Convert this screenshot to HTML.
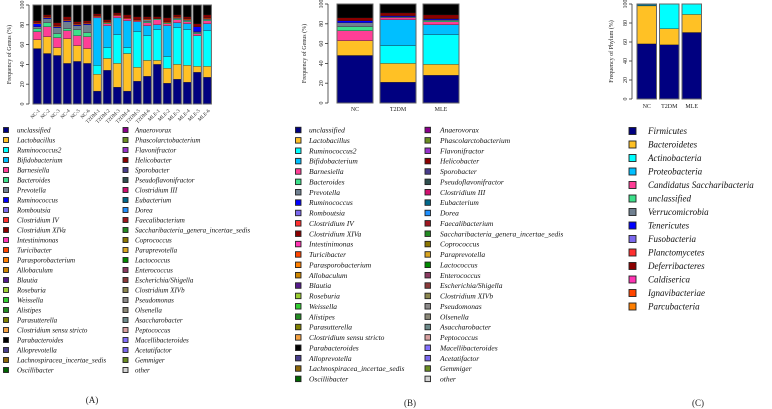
<!DOCTYPE html>
<html><head><meta charset="utf-8">
<style>
html,body{margin:0;padding:0;background:#fff;}
svg{display:block;font-family:"Liberation Serif",serif;}
.lg{font-style:italic;}
</style></head>
<body>
<svg id="fig" width="772" height="409" viewBox="0 0 772 409"></svg>
<script>
// ---------- Panel A data ----------
const samplesA = ["NC-1","NC-2","NC-3","NC-4","NC-5","NC-6","T2DM-1","T2DM-2","T2DM-3","T2DM-4","T2DM-5","T2DM-6","MLE-1","MLE-2","MLE-3","MLE-4","MLE-5","MLE-6"];
const aUnclassified = [56,51,49,41,43,41,13,34,17,13,23,28,40,21,25,22,32,27];
const aLactobacillus = [9,17,8,25,16,15,17,12,24,38,14,16,4,15,15,17,6,11];
const aRuminococcus2 = [0,0,0,0,0,0,9,11,29,6,36,25,31,12,37,36,31,36];
const aBifidobacterium = [0,0,0,0,0,0,48,22,17,27,10,10,5,31,5,6,0,7];
const aBarnesiella = [8,10,10,8,10,12,1,2,2,2,1,3,5,2,3,2,2,3];
const aBacteroides = [3,4,4,2,6,4,0,1,0,0,0,1,1,1,1,1,1,1];
const aPrevotella = [2,4,6,7,4,8,0,0,0,0,0,2,0,0,1,1,1,1];
const aRuminococcus = [3,1,1,1,1,1,0,0,0,0,0,0,0,0,0,0,5,0];
const aTuricibacter = [1,1,1,1,1,1,1,1,1,1,1,1,0,1,1,1,0,1];
const aOther = [2,2,3,3,2,2,2,2,2,3,3,2,2,4,2,2,3,3];
// ---------- Panel B data ----------
const groups = ["NC","T2DM","MLE"];
const bUnclassified = [48,21,28];
const bLactobacillus = [15,19,11];
const bRuminococcus2 = [0,18,30];
const bBifidobacterium = [0,26,10];
const bBarnesiella = [10,2,3];
const bBacteroides = [4,0,1];
const bPrevotella = [4,1,1];
const bRuminococcus = [2,1,1];
const bOther = [3,3,4];
// ---------- Panel C data ----------
const cFirmicutes = [58,57,70];
const cBacteroidetes = [40,17,19];
const cActinobacteria = [0.5,26,11];
const cProteobacteria = [1,0,0];

const legendA1 = [["unclassified","#000080"],["Lactobacillus","#FFC125"],["Ruminococcus2","#00FFFF"],["Bifidobacterium","#00BFFF"],["Barnesiella","#FF3E96"],["Bacteroides","#3CE08A"],["Prevotella","#708090"],["Ruminococcus","#0000FF"],["Romboutsia","#7B68EE"],["Clostridium IV","#FF3030"],["Clostridium XIVa","#8B0000"],["Intestinimonas","#FF34B3"],["Turicibacter","#FF4500"],["Parasporobacterium","#FF7F00"],["Allobaculum","#CD8500"],["Blautia","#551A8B"],["Roseburia","#9ACD32"],["Weissella","#32CD32"],["Alistipes","#228B22"],["Parasutterella","#808000"],["Clostridium sensu stricto","#F4A040"],["Parabacteroides","#000000"],["Alloprevotella","#483D8B"],["Lachnospiracea_incertae_sedis","#8B6508"],["Oscillibacter","#006400"]];
const legendA2 = [["Anaerovorax","#8B008B"],["Phascolarctobacterium","#6B8E23"],["Flavonifractor","#9932CC"],["Helicobacter","#8B0000"],["Sporobacter","#483D8B"],["Pseudoflavonifractor","#2F4F4F"],["Clostridium III","#D10F6F"],["Eubacterium","#00688B"],["Dorea","#1E90FF"],["Faecalibacterium","#A0171F"],["Saccharibacteria_genera_incertae_sedis","#228B22"],["Coprococcus","#8B7500"],["Paraprevotella","#DAA520"],["Lactococcus","#008B00"],["Enterococcus","#8B3A62"],["Escherichia/Shigella","#8B3A3A"],["Clostridium XIVb","#8B864E"],["Pseudomonas","#8B8989"],["Olsenella","#8B8878"],["Asaccharobacter","#6E8B8B"],["Peptococcus","#D8A0A0"],["Macellibacteroides","#8470FF"],["Acetatifactor","#7B68EE"],["Gemmiger","#6B8E23"],["other","#D3D3D3"]];
const legendC = [["Firmicutes","#000080"],["Bacteroidetes","#FFC125"],["Actinobacteria","#00FFFF"],["Proteobacteria","#00BFFF"],["Candidatus Saccharibacteria","#FF3E96"],["unclassified","#3CE08A"],["Verrucomicrobia","#708090"],["Tenericutes","#0000FF"],["Fusobacteria","#7B68EE"],["Planctomycetes","#FF3030"],["Deferribacteres","#8B0000"],["Caldiserica","#FF34B3"],["Ignavibacteriae","#FF4500"],["Parcubacteria","#FF7F00"]];

const NS="http://www.w3.org/2000/svg";
const svg=document.getElementById('fig');
function mk(tag,attrs,parent){const e=document.createElementNS(NS,tag);for(const k in attrs)e.setAttribute(k,attrs[k]);(parent||svg).appendChild(e);return e;}

function panel(p){
  const g=mk('g',{});
  
  
  const yScale=v=>p.y0-(p.y0-p.y100)*v/100;
  // y axis
  const ax=mk('g',{},g);
  
  
  mk('line',{x1:p.axX,x2:p.axX,y1:yScale(0),y2:yScale(100),stroke:'#333','stroke-width':0.8},ax);
  [0,20,40,60,80,100].forEach(t=>{
    const y=yScale(t);
    mk('line',{x1:p.axX-3,x2:p.axX,y1:y,y2:y,stroke:'#333','stroke-width':0.8},ax);
    const tx=mk('text',{x:p.axX-5,y:y,'font-size':p.tickFs,'text-anchor':'middle',transform:`rotate(-90 ${p.axX-5} ${y})`,fill:'#222'},ax);
    tx.textContent=t;
    
    
  });
  const ym=(yScale(0)+yScale(100))/2;
  const tt=mk('text',{x:p.titleX,y:ym,'font-size':p.tickFs,'text-anchor':'middle',transform:`rotate(-90 ${p.titleX} ${ym})`,fill:'#222'},g);
  tt.textContent=p.title;
  
  
  // bars
  p.cats.forEach((c,i)=>{
    const bx=p.barX(i);
    const bg=mk('g',{},g);
    
    
    let cum=0;
    p.series.forEach(s=>{
      const v=s.vals[i]; if(v<=0)return;
      const r=mk('rect',{x:bx,y:yScale(cum+v),width:p.barW,height:yScale(cum)-yScale(cum+v),fill:s.color,stroke:'#111','stroke-width':0.3},bg);
      
      
      cum+=v;
    });
    if(cum<100){
      const r=mk('rect',{x:bx,y:yScale(100),width:p.barW,height:yScale(cum)-yScale(100),fill:p.restColor,stroke:'#111','stroke-width':0.3},bg);
      
      
    }
    mk('rect',{x:bx,y:yScale(100),width:p.barW,height:yScale(0)-yScale(100),fill:'none',stroke:'#666','stroke-width':1},bg);
    const cx=bx+p.barW/2;
    let lb;
    if(p.rotLabels){
      lb=mk('text',{x:cx+3,y:p.labY,'font-size':5,'text-anchor':'end',transform:`rotate(-45 ${cx+3} ${p.labY})`,fill:'#222'},g);
    } else {
      lb=mk('text',{x:cx,y:p.labY,'font-size':p.tickFs,'text-anchor':'middle',fill:'#222'},g);
    }
    lb.textContent=c;
    
    
  });
}

panel({name:'genus-samples',cats:samplesA,y0:104,y100:5,axX:29,titleX:11,tickFs:6,title:'Frequency of Genus (%)',
  barX:i=>33+i*10,barW:8.4,labY:111,rotLabels:true,restColor:'#000',
  series:[{key:'unclassified',vals:aUnclassified,color:'#000080'},{key:'lactobacillus',vals:aLactobacillus,color:'#FFC125'},
  {key:'ruminococcus2',vals:aRuminococcus2,color:'#00FFFF'},{key:'bifidobacterium',vals:aBifidobacterium,color:'#00BFFF'},
  {key:'barnesiella',vals:aBarnesiella,color:'#FF3E96'},{key:'bacteroides',vals:aBacteroides,color:'#3CE08A'},
  {key:'prevotella',vals:aPrevotella,color:'#708090'},{key:'ruminococcus',vals:aRuminococcus,color:'#0000FF'},
  {key:'turicibacter',vals:aTuricibacter,color:'#FF4500'},{key:'other',vals:aOther,color:'#8B0000'}]});

panel({name:'genus-groups',cats:groups,y0:103,y100:4,axX:328,titleX:306,tickFs:6,title:'Frequency of Genus (%)',
  barX:i=>337+i*43,barW:36,labY:111,rotLabels:false,restColor:'#000',
  series:[{key:'unclassified',vals:bUnclassified,color:'#000080'},{key:'lactobacillus',vals:bLactobacillus,color:'#FFC125'},
  {key:'ruminococcus2',vals:bRuminococcus2,color:'#00FFFF'},{key:'bifidobacterium',vals:bBifidobacterium,color:'#00BFFF'},
  {key:'barnesiella',vals:bBarnesiella,color:'#FF3E96'},{key:'bacteroides',vals:bBacteroides,color:'#3CE08A'},
  {key:'prevotella',vals:bPrevotella,color:'#708090'},{key:'ruminococcus',vals:bRuminococcus,color:'#0000FF'},
  {key:'other',vals:bOther,color:'#8B0000'}]});

panel({name:'phylum-groups',cats:groups,y0:99,y100:4,axX:632,titleX:613,tickFs:6,title:'Frequency of Phylum (%)',
  barX:i=>637+i*22.5,barW:19.5,labY:108,rotLabels:false,restColor:'#3CE08A',
  series:[{key:'firmicutes',vals:cFirmicutes,color:'#000080'},{key:'bacteroidetes',vals:cBacteroidetes,color:'#FFC125'},
  {key:'actinobacteria',vals:cActinobacteria,color:'#00FFFF'},{key:'proteobacteria',vals:cProteobacteria,color:'#00BFFF'}]});

function legend(items,sx,tx,y0,dy,fs,sq,name){
  const g=mk('g',{});
  
  
  items.forEach((it,i)=>{
    const y=y0+i*dy;
    const e=mk('g',{},g);
    
    
    mk('rect',{x:sx,y:y-sq/2,width:sq,height:sq,fill:it[1],stroke:'#222','stroke-width':0.9},e);
    const t=mk('text',{x:tx,y:y+fs*0.35,'font-size':fs,class:'lg',fill:'#111'},e);
    t.textContent=it[0];
  });
}
legend(legendA1,3.5,17,130,10,7,5,'legend-a-left');
legend(legendA2,123,135,130,10,7,5,'legend-a-right');
legend(legendA1,295.5,309,130,10.37,7.5,5.5,'legend-b-left');
legend(legendA2,425,440,130,10.37,7.5,5.5,'legend-b-right');
legend(legendC,629,648,131,13.5,9,7,'legend-c');

[["(A)",92,403],["(B)",410,406],["(C)",698,406]].forEach(l=>{
  const t=mk('text',{x:l[1],y:l[2],'font-size':9,'text-anchor':'middle',fill:'#222'});
  t.textContent=l[0];
  
  
});
</script>
</body></html>
